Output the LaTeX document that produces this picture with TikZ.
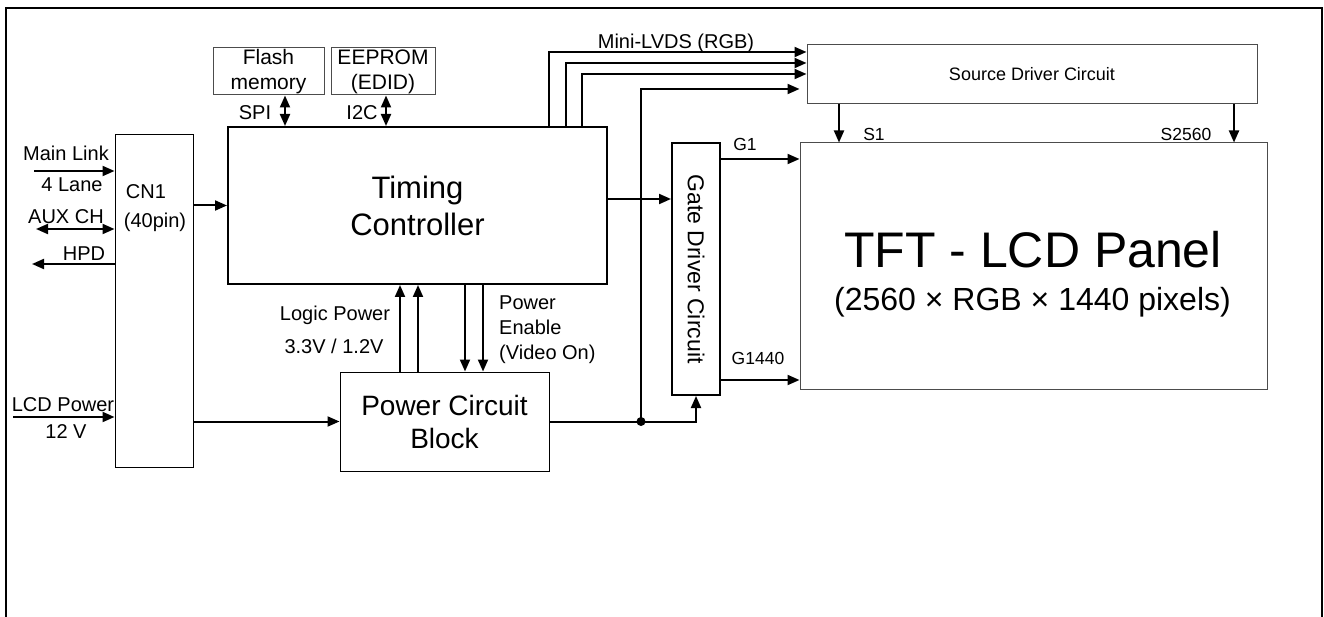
\documentclass[tikz,border=0pt]{standalone}
\usepackage{fontspec}
\setmainfont{Liberation Sans}
\usetikzlibrary{arrows.meta,positioning,calc}
\tikzset{
    box/.style 2 args={draw,line width=1pt,minimum width=#1,minimum height=#2,inner sep=0pt,align=center},
    boldbox/.style={line width=2pt},
    greybox/.style={draw=black!70},
    sig/.style={line width=2pt,-{Triangle[length=12pt,width=10pt]}},
    bisig/.style={line width=2pt,{Triangle[length=12pt,width=10pt]}-{Triangle[length=12pt,width=10pt]}},
    wire/.style={line width=2pt},
    lbl/.style={inner sep=0pt,font=\fontsize{20}{24}\selectfont},
    tiny/.style={inner sep=0pt,font=\fontsize{17.5}{20}\selectfont},
}
\begin{document}
\begin{tikzpicture}[x=1pt,y=-1pt]
    \useasboundingbox (0,0) rectangle (1324,617);
    % outer frame, open at the bottom
    \draw[line width=2pt] (6,617) -- (6,8) -- (1322,8) -- (1322,617);

    % blocks
    \node[box={111}{47},greybox,font=\fontsize{21}{25}\selectfont] (flash) at (268.5,71.5) {Flash\\memory};
    \node[box={104}{47},greybox,font=\fontsize{21}{25}\selectfont] (eeprom) at (383,71.5) {EEPROM\\(EDID)};
    \node[box={379}{157},boldbox,font=\fontsize{31}{37}\selectfont] (tcon) at (417.5,205.5) {Timing\\Controller};
    \node[box={78}{332}] (cn1) at (154,301) {};
    \node[box={209}{99},font=\fontsize{28}{33}\selectfont] (pwr) at (444.5,421.5) {Power Circuit\\Block};
    \node[box={48}{252},boldbox] (gate) at (696,269) {};
    \node[rotate=-90,inner sep=0pt,font=\fontsize{23}{27}\selectfont] (gatet) at (gate.center) {Gate Driver Circuit};
    \node[box={450}{59},greybox,font=\fontsize{18}{22}\selectfont] (src) at (1032,74.5) {Source Driver Circuit};
    \node[box={467}{246},greybox] (panel) at (1033.5,266) {};
    \node[anchor=base,inner sep=0pt,font=\fontsize{50}{56}\selectfont] (tftt) at (1033,268) {TFT - LCD Panel};
    \node[anchor=base,inner sep=0pt,font=\fontsize{32}{38}\selectfont] (tfts) at (1032.5,311) {(2560 × RGB × 1440 pixels)};

    % connector texts
    \node[lbl] (cn1a) at (146,192) {CN1};
    \node[lbl] (cn1b) at (155,222) {(40pin)};
    \node[lbl] (mlt) at (66,153) {Main Link};
    \node[lbl] (mlb) at (72,185) {4 Lane};
    \node[lbl] (auxt) at (66,217) {AUX CH};
    \node[lbl] (hpdt) at (84,254) {HPD};
    \node[lbl] (lcdt) at (63,405) {LCD Power};
    \node[lbl] (lcdb) at (66,432) {12 V};
    \node[lbl] (spit) at (255,113) {SPI};
    \node[lbl] (i2ct) at (362,113) {I2C};
    \node[lbl] (lpt) at (335,315) {Logic Power};
    \node[lbl] (lpb) at (334,346) {3.3V / 1.2V};
    \node[lbl,anchor=west,align=left,font=\fontsize{20}{25}\selectfont] (pent) at (499,330) {Power\\Enable\\(Video On)};
    \node[lbl] (lvdst) at (676,43) {Mini-LVDS (RGB)};
    \node[tiny] (g1t) at (745,144) {G1};
    \node[tiny] (gnt) at (758,358) {G1440};
    \node[tiny] (s1t) at (874,134) {S1};
    \node[tiny] (snt) at (1186,134) {S2560};

    % helper points
    \coordinate (ml) at (34,171);
    \coordinate (aux) at (36,229);
    \coordinate (hpd) at (32,264);
    \coordinate (lcd) at (13,417);
    \coordinate (spi) at (285,0);
    \coordinate (i2c) at (386,0);
    \coordinate (tg) at (0,199);
    \coordinate (g1) at (0,159);
    \coordinate (gn) at (0,380);
    \coordinate (s1) at (839,0);
    \coordinate (sn) at (1234,0);
    \coordinate (jn) at (641,421.5);
    \coordinate (ck) at (641,89);

    % external interface
    \draw[sig] (ml) -- (ml -| cn1.west);
    \draw[bisig] (aux) -- (aux -| cn1.west);
    \draw[sig] (hpd -| cn1.west) -- (hpd);
    \draw[sig] (lcd) -- (lcd -| cn1.west);
    \draw[sig] (cn1.east |- tcon.west) -- (tcon.west);
    \draw[sig] (cn1.east |- pwr.west) -- (pwr.west);

    % memories
    \draw[bisig] (spi |- flash.south) -- (spi |- tcon.north);
    \draw[bisig] (i2c |- eeprom.south) -- (i2c |- tcon.north);

    % power
    \foreach \x in {400,418}
        \draw[sig] (\x,0 |- pwr.north) -- (\x,0 |- tcon.south);
    \foreach \x in {465,483}
        \draw[sig] (\x,0 |- tcon.south) -- (\x,0 |- pwr.north);

    % mini-LVDS
    \foreach \n/\x/\y in {a/549/52,b/566/63,c/582/74}{
        \coordinate (lv\n) at (\x,\y);
        \draw[sig] (lv\n |- tcon.north) -- (lv\n) -- (lv\n -| src.west);
    }
    \draw[wire] (pwr.east) -- (jn);
    \draw[sig] (jn) -- (gate.south |- jn) -- (gate.south);
    \draw[sig,shorten >=7pt] (jn) -- (ck) -- (ck -| src.west);
    \fill (jn) circle (4.5);

    % drivers to panel
    \draw[sig] (tcon.east |- tg) -- (gate.west |- tg);
    \draw[sig] (gate.east |- g1) -- (panel.west |- g1);
    \draw[sig] (gate.east |- gn) -- (panel.west |- gn);
    \draw[sig] (s1 |- src.south) -- (s1 |- panel.north);
    \draw[sig] (sn |- src.south) -- (sn |- panel.north);
\end{tikzpicture}
\end{document}
